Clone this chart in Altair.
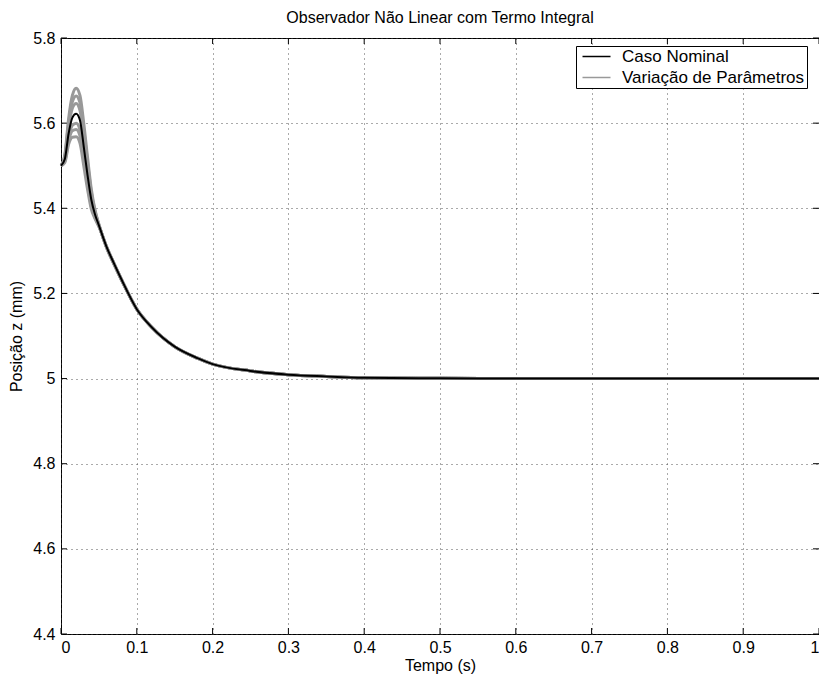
import altair as alt
import pandas as pd

# early part time grid (s)
t_early = [0.0, 0.005, 0.01, 0.015, 0.02, 0.025, 0.03, 0.035, 0.04, 0.045, 0.05, 0.06, 0.07, 0.08]
# shared tail time grid (s)
t_tail = [0.1, 0.12, 0.15, 0.18, 0.2, 0.25, 0.3, 0.35, 0.4, 0.5, 0.6, 0.7, 0.8, 0.9, 1.0]
z_tail = [5.163, 5.12, 5.075, 5.048, 5.034, 5.018, 5.009, 5.005, 5.002, 5.0005, 5.0001, 5.0, 5.0, 5.0, 5.0]

nominal_early = [5.50, 5.515, 5.575, 5.613, 5.622, 5.607, 5.545, 5.478, 5.42, 5.385, 5.36, 5.31, 5.27, 5.232]

var_a = [5.50, 5.525, 5.61, 5.665, 5.682, 5.665, 5.60, 5.52, 5.445, 5.395, 5.362, 5.308, 5.268, 5.231]
var_b = [5.50, 5.522, 5.60, 5.65, 5.664, 5.648, 5.585, 5.508, 5.437, 5.392, 5.361, 5.309, 5.269, 5.231]
var_c = [5.50, 5.519, 5.59, 5.635, 5.646, 5.630, 5.568, 5.495, 5.43, 5.389, 5.361, 5.309, 5.269, 5.232]
var_d = [5.50, 5.512, 5.565, 5.595, 5.600, 5.585, 5.528, 5.465, 5.412, 5.381, 5.359, 5.31, 5.27, 5.232]
var_e = [5.50, 5.510, 5.558, 5.582, 5.585, 5.570, 5.515, 5.455, 5.405, 5.378, 5.358, 5.31, 5.27, 5.232]
var_f = [5.50, 5.507, 5.55, 5.567, 5.568, 5.553, 5.50, 5.445, 5.398, 5.375, 5.357, 5.31, 5.27, 5.232]

x_ticks = [0.0, 0.1, 0.2, 0.3, 0.4, 0.5, 0.6, 0.7, 0.8, 0.9, 1.0]
y_ticks = [4.4, 4.6, 4.8, 5.0, 5.2, 5.4, 5.6, 5.8]

NOM = "Caso Nominal"
VAR = "Variação de Parâmetros"

rows = []
for name, early in [("a", var_a), ("b", var_b), ("c", var_c), ("d", var_d), ("e", var_e), ("f", var_f)]:
    for t, z in zip(t_early + t_tail, early + z_tail):
        rows.append({"t": t, "z": z, "run": name, "grupo": VAR})
var_df = pd.DataFrame(rows)
nom_df = pd.DataFrame({"t": t_early + t_tail, "z": nominal_early + z_tail, "run": "nom", "grupo": NOM})

W, H = 758, 596
FONT = "Liberation Sans"
FS = 16

xscale = alt.Scale(domain=[0, 1], nice=False, zero=False)
yscale = alt.Scale(domain=[4.4, 5.8], nice=False, zero=False)
color = alt.Color(
    "grupo:N",
    scale=alt.Scale(domain=[NOM, VAR], range=["#000000", "#999999"]),
    legend=alt.Legend(
        title=None, orient="none", legendX=515, legendY=8,
        strokeColor="black", fillColor="white", padding=2, cornerRadius=0,
        labelFont=FONT, labelFontSize=17, labelColor="black", labelLimit=400,
        symbolType="M-0.571,0H3.429", symbolSize=196, symbolStrokeWidth=1.5,
        rowPadding=3, labelOffset=27,
    ),
)

xax = alt.Axis(values=x_ticks, format="~g", grid=True, ticks=False, domain=False,
               title="Tempo (s)", labelPadding=5, titlePadding=2)
yax = alt.Axis(values=y_ticks, format="~g", grid=True, ticks=False, domain=False,
               title="Posição z (mm)", labelPadding=6, titlePadding=8)

grey = alt.Chart(var_df).mark_line(strokeWidth=3, interpolate="monotone").encode(
    x=alt.X("t:Q", scale=xscale, axis=xax),
    y=alt.Y("z:Q", scale=yscale, axis=yax),
    color=color,
    detail="run:N",
)
black = alt.Chart(nom_df).mark_line(strokeWidth=2, interpolate="monotone").encode(
    x=alt.X("t:Q", scale=xscale),
    y=alt.Y("z:Q", scale=yscale),
    color=color,
)

xt = pd.DataFrame({"v": x_ticks})
yt = pd.DataFrame({"v": y_ticks})
tick_b = alt.Chart(xt).mark_rule(color="black", strokeWidth=1).encode(
    x=alt.X("v:Q", scale=xscale), y=alt.value(H), y2=alt.value(H - 6))
tick_t = alt.Chart(xt).mark_rule(color="black", strokeWidth=1).encode(
    x=alt.X("v:Q", scale=xscale), y=alt.value(0), y2=alt.value(6))
tick_l = alt.Chart(yt).mark_rule(color="black", strokeWidth=1).encode(
    y=alt.Y("v:Q", scale=yscale), x=alt.value(0), x2=alt.value(6))
tick_r = alt.Chart(yt).mark_rule(color="black", strokeWidth=1).encode(
    y=alt.Y("v:Q", scale=yscale), x=alt.value(W), x2=alt.value(W - 6))

chart = alt.layer(tick_b, tick_t, tick_l, tick_r, grey, black).properties(
    width=W, height=H,
    title=alt.TitleParams("Observador Não Linear com Termo Integral", font=FONT,
                          fontSize=FS, fontWeight="normal", color="black", offset=4),
    autosize=alt.AutoSizeParams(type="none"),
    padding={"left": 53, "top": 30, "right": 0, "bottom": 42},
).configure_view(
    stroke="black", strokeWidth=1,
).configure_axis(
    gridColor="#444444", gridDash=[1, 4], gridWidth=1, gridOpacity=0.9,
    labelFont=FONT, labelFontSize=FS, labelColor="black",
    titleFont=FONT, titleFontSize=FS, titleFontWeight="normal", titleColor="black",
)

chart.save("out.html", embed_options={"renderer": "svg", "actions": False})
